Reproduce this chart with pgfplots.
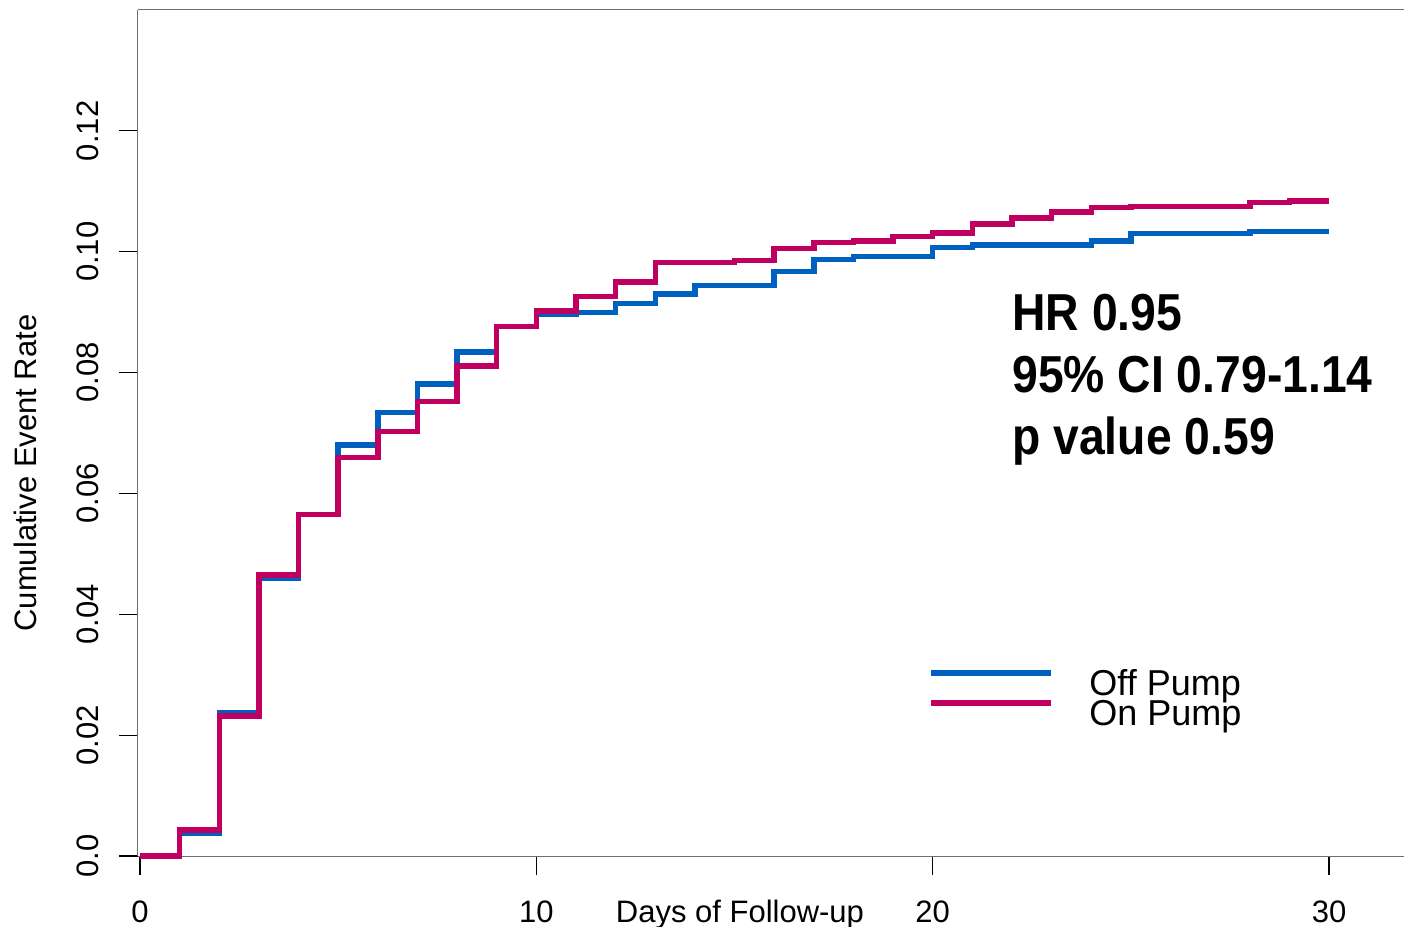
\documentclass[border=0pt]{standalone}
\usepackage{pgfplots}
\pgfplotsset{compat=1.18}
\usepackage{fontspec}
\setmainfont{Liberation Sans}
\newfontfamily\hrfont[FakeStretch=0.89]{Liberation Sans Bold}
\definecolor{offblue}{RGB}{0,96,192}
\definecolor{onred}{RGB}{192,0,96}
\definecolor{boxgray}{RGB}{110,110,110}
\begin{document}
\begin{tikzpicture}
\begin{axis}[
  scale only axis, width=633pt, height=423pt,
  xmin=-0.05, xmax=31.89, ymin=0, ymax=0.14,
  axis x line*=bottom, axis y line*=left,
  axis line style={draw=boxgray, line width=0.5pt},
  xtick={0,10,20,30},
  ytick={0,0.02,0.04,0.06,0.08,0.10,0.12},
  yticklabels={0.0,0.02,0.04,0.06,0.08,0.10,0.12},
  tick align=outside, major tick length=9.5pt,
  tick style={black, line width=0.6pt},
  /pgf/number format/assume math mode=true,
  tick label style={font=\fontsize{15.5}{18}\selectfont},
  xticklabel style={anchor=base, yshift=-23.5pt},
  yticklabel style={xshift=-10pt, rotate=90, anchor=base},
  label style={font=\fontsize{15.5}{18}\selectfont},
  xlabel={Days of Follow-up},
  xlabel style={at={([yshift=-33pt]axis description cs:0.4755,0)}, anchor=base},
  ylabel={Cumulative Event Rate},
  ylabel style={at={([xshift=-50.5pt]axis description cs:0,0.4527)}, anchor=base, rotate=0},
  legend style={draw=none, fill=none, font=\fontsize{18}{18}\selectfont,
    at={(axis cs:19.73,0.0315)}, anchor=north west,
    nodes={inner sep=0pt, text height=12.5pt, text depth=2.5pt},
    column sep=17.5pt, row sep=0pt},
  legend cell align=left,
  legend image code/.code={\draw[#1, line width=3pt] (0pt,6pt) -- (60pt,6pt);},
  clip=false,
]
\draw[boxgray, line width=0.5pt] (rel axis cs:0,1) -- (rel axis cs:1,1);
\addplot[const plot, offblue, line width=2.7pt] coordinates {
(0,0) (1,0.0038) (2,0.0237) (3,0.0460) (4,0.0565) (5,0.0680) (6,0.0734)
(7,0.0781) (8,0.0834) (9,0.0876) (10,0.0896) (11,0.0899) (12,0.0914)
(13,0.0930) (14,0.0944) (15,0.0944) (16,0.0967) (17,0.0987) (18,0.0992)
(19,0.0992) (20,0.1007) (21,0.1011) (22,0.1011) (23,0.1011) (24,0.1018)
(25,0.1030) (26,0.1030) (27,0.1030) (28,0.1033) (29,0.1033) (30,0.1033)};
\addlegendentry{Off Pump}
\addplot[const plot, onred, line width=2.7pt] coordinates {
(0,0) (1,0.0043) (2,0.0232) (3,0.0465) (4,0.0565) (5,0.0659) (6,0.0702)
(7,0.0752) (8,0.0811) (9,0.0876) (10,0.0902) (11,0.0926) (12,0.0950)
(13,0.0982) (14,0.0982) (15,0.0985) (16,0.1005) (17,0.1015) (18,0.1018)
(19,0.1025) (20,0.1031) (21,0.1046) (22,0.1056) (23,0.1066) (24,0.1073)
(25,0.1075) (26,0.1075) (27,0.1075) (28,0.1081) (29,0.1084) (30,0.1084)};
\addlegendentry{On Pump}
\node[anchor=base west, inner sep=0pt, font=\hrfont\fontsize{26}{30}\selectfont] at (axis cs:22.0,0.08692) {HR 0.95};
\node[anchor=base west, inner sep=0pt, font=\hrfont\fontsize{26}{30}\selectfont] at (axis cs:22.0,0.07666) {95\% CI 0.79-1.14};
\node[anchor=base west, inner sep=0pt, font=\hrfont\fontsize{26}{30}\selectfont] at (axis cs:22.0,0.06640) {p value 0.59};
\end{axis}
\pgfresetboundingbox
\path ([shift={(-69pt,-35.5pt)}]current axis.south west) rectangle ([shift={(0pt,5pt)}]current axis.north east);
\end{tikzpicture}
\end{document}
